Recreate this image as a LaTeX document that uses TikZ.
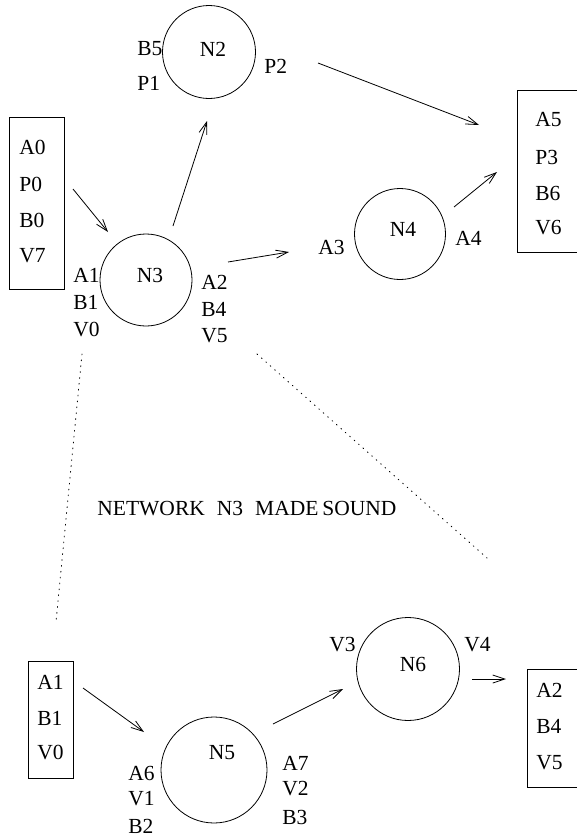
\documentclass[tikz,border=0pt]{standalone}
\usepackage{fontspec}
\setmainfont{Liberation Serif}
\usetikzlibrary{arrows.meta}
\begin{document}
\begin{tikzpicture}[x=1pt,y=-1pt,
  line width=0.8pt,
  txt/.style={inner sep=0pt,anchor=west,font=\fontsize{21.5}{24}\selectfont},
  ctxt/.style={inner sep=0pt,font=\fontsize{21.5}{24}\selectfont},
  ring/.style={draw,circle,inner sep=0pt},
  boxn/.style={draw,rectangle,inner sep=0pt,anchor=north west},
  arr/.style={-{Straight Barb[length=12pt,width=8pt]}},
  dotline/.style={dash pattern=on 0.9pt off 5pt,line cap=round}]
\useasboundingbox (0,0) rectangle (577,838);
% circles
\node[ring,minimum size=93pt] (N2) at (209,52) {};
\node[ring,minimum size=92pt] (N3) at (146,280) {};
\node[ring,minimum size=91pt] (N4) at (400,234) {};
\node[ring,minimum size=106pt] (N5) at (214,770) {};
\node[ring,minimum size=103pt] (N6) at (408,669) {};
\node[ctxt] (tN2) at (213,49) {N2};
\node[ctxt] (tN3) at (150,275) {N3};
\node[ctxt] (tN4) at (403,229) {N4};
\node[ctxt] (tN5) at (222,753) {N5};
\node[ctxt] (tN6) at (413,664) {N6};
% boxes
\node[boxn,minimum width=55pt,minimum height=172pt] (bx1) at (9,117) {};
\node[boxn,minimum width=60pt,minimum height=162pt] (bx2) at (517,90) {};
\node[boxn,minimum width=45pt,minimum height=117pt] (bx3) at (28,661) {};
\node[boxn,minimum width=50pt,minimum height=118pt] (bx4) at (527,669) {};
% box texts
\node[txt] (a0) at (19,147) {A0};
\node[txt] (p0) at (19,184) {P0};
\node[txt] (b0) at (19,220) {B0};
\node[txt] (v7) at (19,256) {V7};
\node[txt] (a5) at (535,120) {A5};
\node[txt] (p3) at (535,157) {P3};
\node[txt] (b6) at (535,193) {B6};
\node[txt] (v6) at (535,228) {V6};
\node[txt] (a1b) at (37,682) {A1};
\node[txt] (b1b) at (37,718) {B1};
\node[txt] (v0b) at (37,753) {V0};
\node[txt] (a2b) at (536,690) {A2};
\node[txt] (b4b) at (536,726) {B4};
\node[txt] (v5b) at (536,763) {V5};
% port labels
\node[txt] (b5) at (137,49) {B5};
\node[txt] (p1) at (137,83) {P1};
\node[txt] (p2) at (264,66) {P2};
\node[txt] (a1) at (73,275) {A1};
\node[txt] (b1) at (73,302) {B1};
\node[txt] (v0) at (73,330) {V0};
\node[txt] (a2) at (201,282) {A2};
\node[txt] (b4) at (201,309) {B4};
\node[txt] (v5) at (201,336) {V5};
\node[txt] (a3) at (318,247) {A3};
\node[txt] (a4) at (455,238) {A4};
\node[txt] (a6) at (128,773) {A6};
\node[txt] (v1) at (128,799) {V1};
\node[txt] (b2) at (128,826) {B2};
\node[txt] (a7) at (282,763) {A7};
\node[txt] (v2) at (282,789) {V2};
\node[txt] (b3) at (282,817) {B3};
\node[txt] (v3) at (329,645) {V3};
\node[txt] (v4) at (464,645) {V4};
\node[txt] (title) at (97,509) {NETWORK\hspace{12pt}N3\hspace{12pt}MADE\hspace{4pt}SOUND};
% arrow endpoints
\coordinate (s1) at (73,189);  \coordinate (e1) at (108,232);
\coordinate (s2) at (173,226); \coordinate (e2) at (207,121);
\coordinate (s3) at (228,262); \coordinate (e3) at (289,252);
\coordinate (s4) at (318,63);  \coordinate (e4) at (479,125);
\coordinate (s5) at (454,207); \coordinate (e5) at (497,172);
\coordinate (s6) at (83,688);  \coordinate (e6) at (144,732);
\coordinate (s7) at (273,724); \coordinate (e7) at (343,689);
\coordinate (s8) at (472,679); \coordinate (e8) at (506,679);
\draw[arr] (s1) -- (e1);
\draw[arr] (s2) -- (e2);
\draw[arr] (s3) -- (e3);
\draw[arr] (s4) -- (e4);
\draw[arr] (s5) -- (e5);
\draw[arr] (s6) -- (e6);
\draw[arr] (s7) -- (e7);
\draw[arr] (s8) -- (e8);
% dotted lines
\coordinate (d1s) at (82,354); \coordinate (d1e) at (56,622);
\coordinate (d2s) at (257,354); \coordinate (d2e) at (487,558);
\draw[dotline] (d1s) -- (d1e);
\draw[dotline] (d2s) -- (d2e);
\end{tikzpicture}
\end{document}
